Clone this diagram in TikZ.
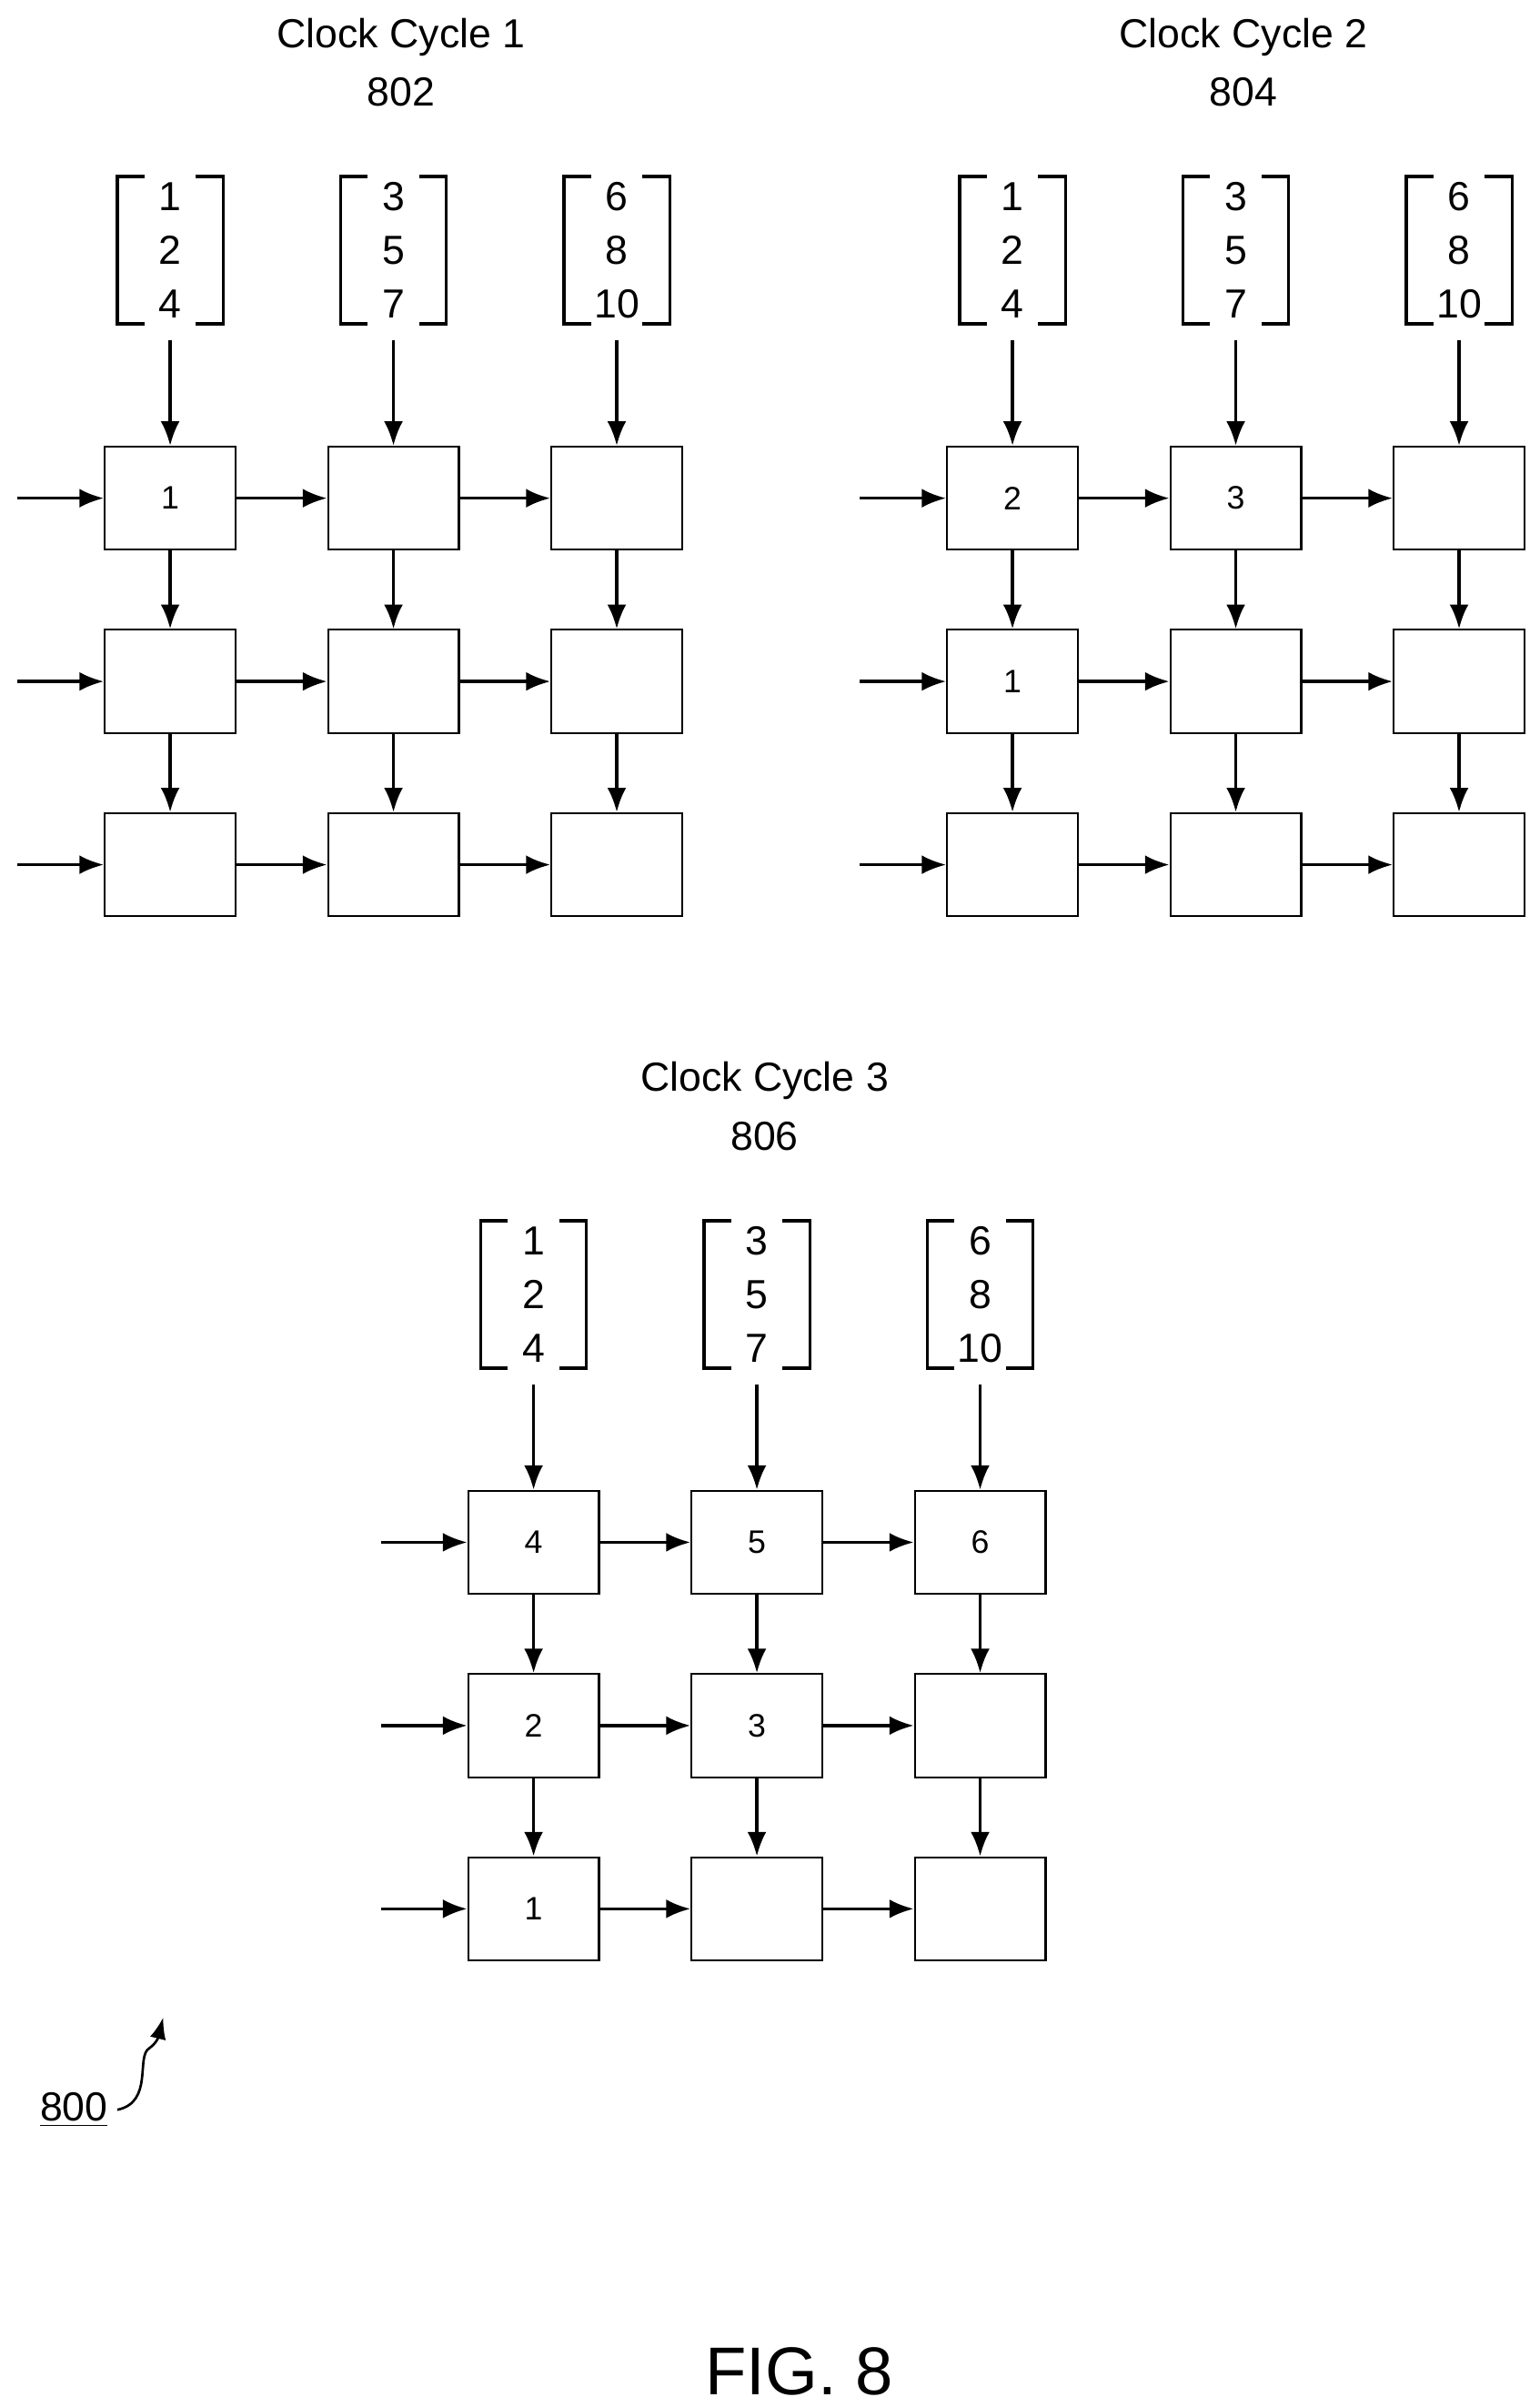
\documentclass[tikz,border=0pt]{standalone}
\usepackage{fontspec}
\setmainfont{Liberation Sans}
\usetikzlibrary{arrows.meta}

\tikzset{
  cell/.style={draw,line width=0.7pt,minimum width=1.7cm,minimum height=1.34cm,inner sep=0pt,font=\fontsize{12}{14}\selectfont},
  vec/.style={minimum width=1.36cm,minimum height=1.9cm,inner sep=0pt,align=center,font=\fontsize{15}{19.9}\selectfont},
  arr/.style={line width=1.1pt,-{Latex[length=9pt,width=7pt]}},
  brk/.style={line width=1.1pt},
  title/.style={font=\fontsize{15}{18}\selectfont}
}

% name, left x, top y, title, ref, nine cell labels
\newcommand\cyclegrid[6]{%
  \node[title] (#1-title) at ({#2+192.5},{#3-266}) {#4};
  \node[title] (#1-ref) at ({#2+192.5},{#3-230}) {#5};
  \foreach \lab [count=\k from 0] in {#6} {
    \pgfmathtruncatemacro\row{int(\k/3)}
    \pgfmathtruncatemacro\col{mod(\k,3)}
    \node[cell] (#1-\row-\col) at ({#2+42.5+145*\col},{#3+33.5+119*\row}) {\lab};
  }
  \foreach \v [count=\c from 0] in {{1\\2\\4},{3\\5\\7},{6\\8\\10}} {
    \node[vec] (#1-v\c) at ({#2+42.5+145*\c},{#3-127.5}) {\v};
    \draw[brk] ([xshift=10pt]#1-v\c.north west) -| (#1-v\c.south west) -- ++(10pt,0);
    \draw[brk] ([xshift=-10pt]#1-v\c.north east) -| (#1-v\c.south east) -- ++(-10pt,0);
    \draw[arr,shorten <=6pt] (#1-v\c) -- (#1-0-\c);
  }
  \foreach \r in {0,1,2} {
    \coordinate (#1-in\r) at ([xshift=-1.12cm]#1-\r-0.west);
    \draw[arr] (#1-in\r) -- (#1-\r-0);
    \draw[arr] (#1-\r-0) -- (#1-\r-1);
    \draw[arr] (#1-\r-1) -- (#1-\r-2);
  }
  \foreach \c in {0,1,2} {
    \draw[arr] (#1-0-\c) -- (#1-1-\c);
    \draw[arr] (#1-1-\c) -- (#1-2-\c);
  }
}

\begin{document}
\begin{tikzpicture}[x=0.02cm,y=-0.02cm]
  \useasboundingbox (0,0) rectangle (1000,1563);

  \cyclegrid{a}{68}{290}{Clock Cycle 1}{802}{1,,,,,,,,}
  \cyclegrid{b}{615}{290}{Clock Cycle 2}{804}{2,3,,1,,,,,}
  \cyclegrid{c}{304}{968}{Clock Cycle 3}{806}{4,5,6,2,3,,1,,}

  % reference label
  \node[title] (fig-ref) at (48,1370) {\underline{800}};
  \draw[line width=0.9pt,-{Latex[length=8pt,width=6pt]}] (fig-ref.east) .. controls (100,1365) and (88,1335) .. (97,1330) .. controls (104,1325) and (104,1318) .. (106,1310);

  \node[font=\fontsize{25}{30}\selectfont] (fig) at (519,1540) {FIG. 8};
\end{tikzpicture}
\end{document}
